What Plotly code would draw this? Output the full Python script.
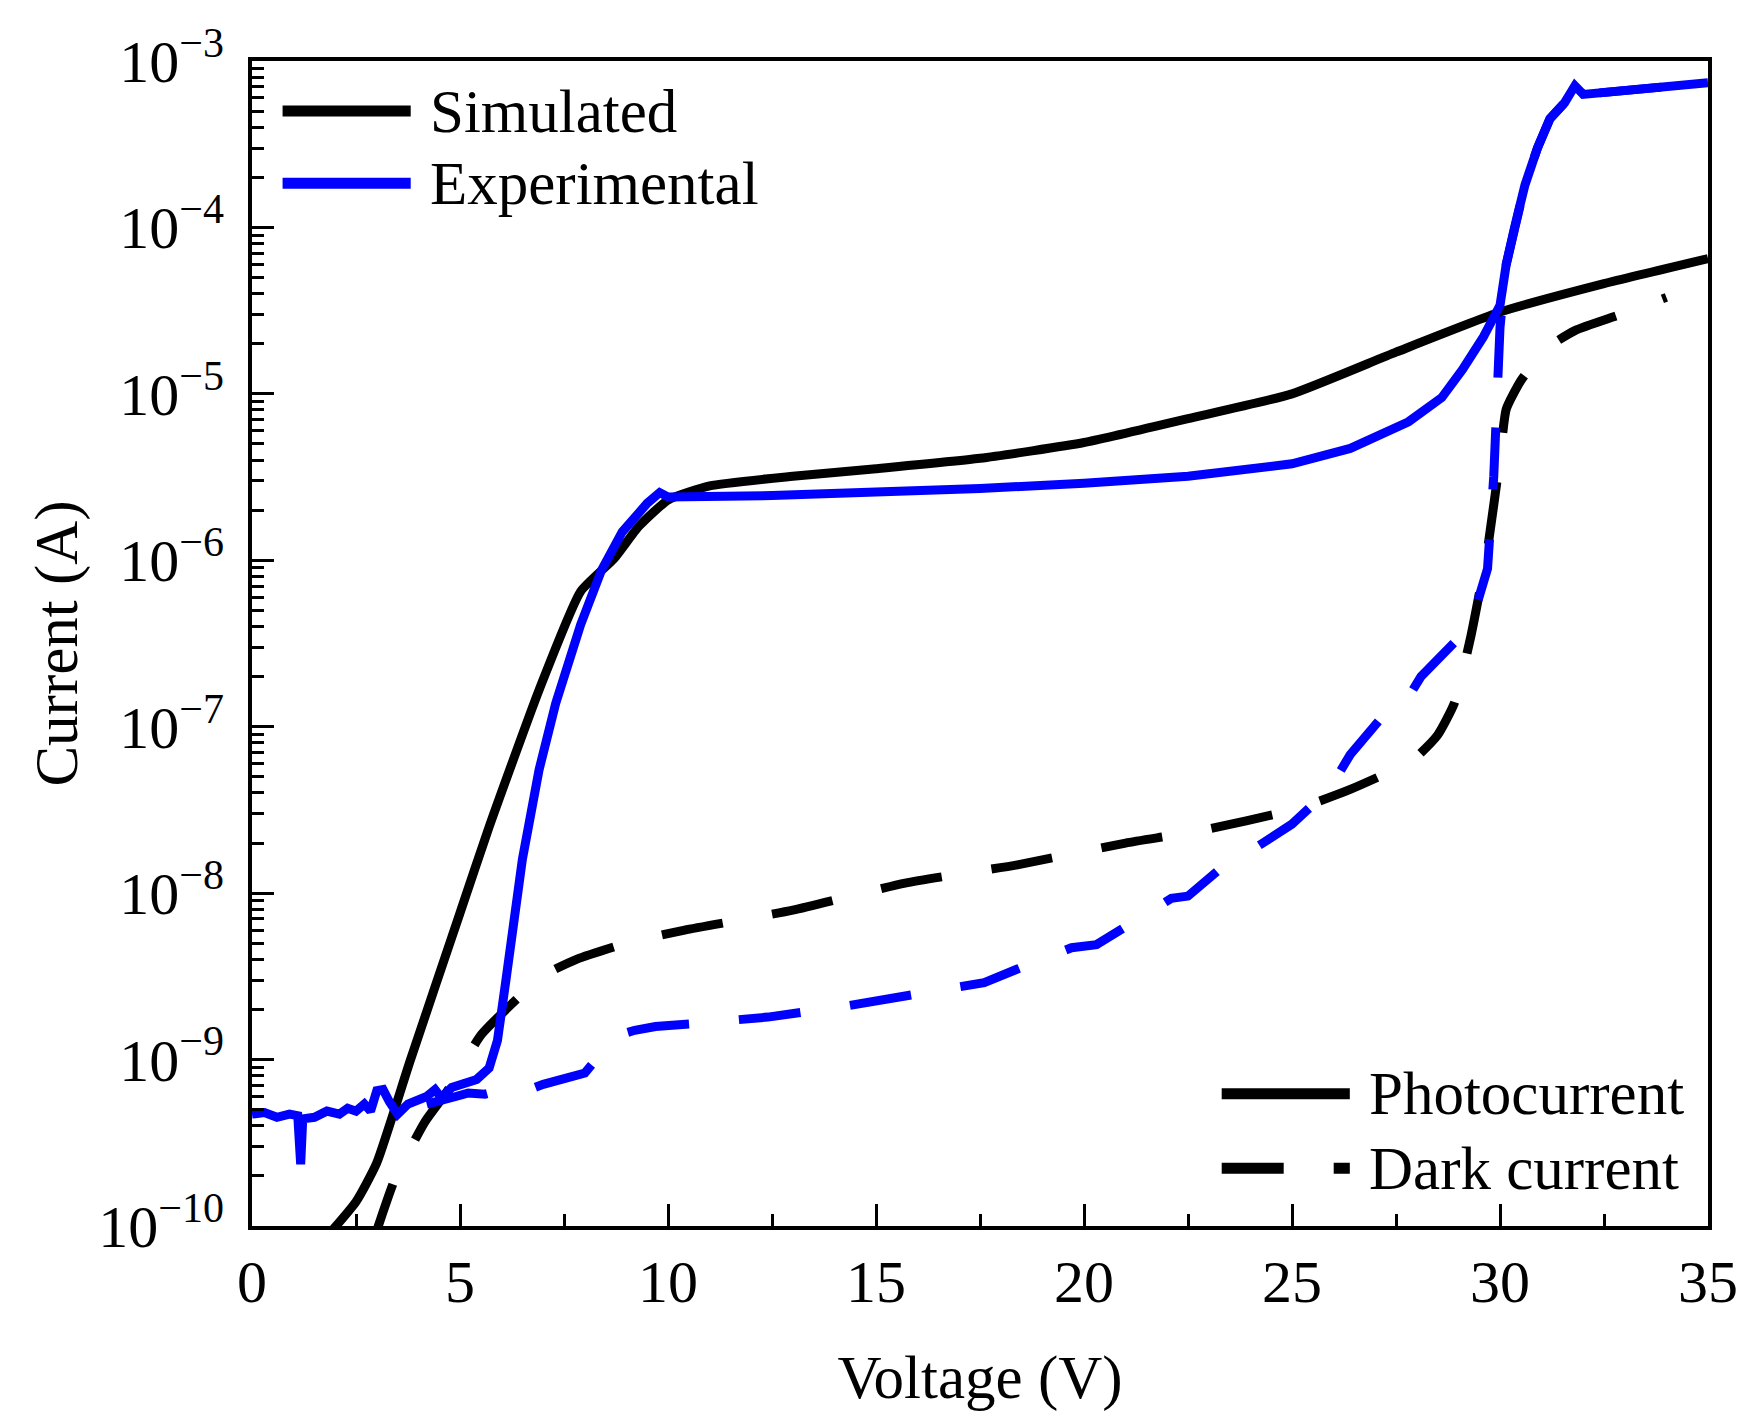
import plotly.graph_objects as go

# photocurrent, simulated (black solid)
sim_photo_v = [1.5, 2.5, 3.0, 3.8, 5.0, 5.7, 6.9, 7.9, 8.7, 9.3, 10.0, 11.0, 13.0, 15.0,
               17.5, 20.0, 22.5, 25.0, 27.5, 30.0, 32.5, 35.0]
sim_photo_i = [7.1e-11, 1.4e-10, 2.4e-10, 9.8e-10, 7.6e-9, 2.5e-8, 1.66e-7, 6.5e-7, 1.02e-6,
               1.6e-6, 2.3e-6, 2.8e-6, 3.2e-6, 3.55e-6, 4.1e-6, 5.1e-6, 7.1e-6, 1.0e-5,
               1.78e-5, 3.1e-5, 4.6e-5, 6.5e-5]

# photocurrent, experimental (blue solid)
exp_photo_v = [0.0, 0.3, 0.6, 0.9, 1.1, 1.17, 1.22, 1.5, 1.8, 2.1, 2.3, 2.5, 2.7, 2.85, 3.0,
               3.15, 3.3, 3.5, 3.75, 4.0, 4.2, 4.4, 4.55, 4.8, 5.1, 5.4, 5.7, 5.9, 6.1, 6.5,
               6.9, 7.3, 7.9, 8.4, 8.9, 9.5, 9.8, 10.0, 12.5, 15.0, 17.5, 20.0, 22.5, 25.0,
               26.4, 27.8, 28.6, 29.1, 29.6, 30.0, 30.15, 30.35, 30.6, 30.9, 31.2, 31.55,
               31.8, 32.0, 35.0]
exp_photo_i = [4.7e-10, 4.8e-10, 4.5e-10, 4.7e-10, 4.6e-10, 2.35e-10, 4.4e-10, 4.5e-10,
               4.9e-10, 4.7e-10, 5.1e-10, 4.9e-10, 5.4e-10, 4.9e-10, 6.5e-10, 6.6e-10,
               5.6e-10, 4.7e-10, 5.4e-10, 5.8e-10, 6.0e-10, 6.6e-10, 5.9e-10, 6.8e-10,
               7.1e-10, 7.6e-10, 8.9e-10, 1.3e-9, 2.95e-9, 1.6e-8, 5.5e-8, 1.38e-7, 4.1e-7,
               8.7e-7, 1.48e-6, 2.2e-6, 2.55e-6, 2.4e-6, 2.45e-6, 2.55e-6, 2.7e-6, 2.9e-6,
               3.2e-6, 3.8e-6, 4.7e-6, 6.8e-6, 9.5e-6, 1.4e-5, 2.2e-5, 3.4e-5, 6.0e-5,
               1.0e-4, 1.8e-4, 3.0e-4, 4.5e-4, 5.6e-4, 7.1e-4, 6.3e-4, 7.4e-4]

# dark current, simulated (black dashed)
sim_dark_v = [2.9, 3.43, 4.15, 4.7, 5.5, 6.4, 7.0, 7.8, 9.0, 10.4, 13.0, 15.7, 18.4, 21.0,
              22.7, 25.1, 26.4, 27.9, 28.5, 28.9, 29.3, 29.7, 30.0, 30.15, 30.5, 31.15,
              31.8, 32.9, 34.0]
sim_dark_i = [7.9e-11, 1.9e-10, 4.2e-10, 6.5e-10, 1.4e-9, 2.35e-9, 3.2e-9, 4.0e-9, 5.0e-9,
              6.0e-9, 7.9e-9, 1.15e-8, 1.48e-8, 2.0e-8, 2.35e-8, 3.2e-8, 4.2e-8, 6.3e-8,
              8.9e-8, 1.38e-7, 3.5e-7, 1.17e-6, 4.1e-6, 8.1e-6, 1.2e-5, 1.9e-5, 2.4e-5,
              3.0e-5, 3.8e-5]

# dark current, experimental (blue dashed)
exp_dark_v = [4.2, 4.5, 4.9, 5.2, 5.6, 6.2, 6.6, 7.0, 7.5, 8.0, 8.5, 8.8, 9.2, 9.7, 10.8,
              12.4, 14.3, 15.4, 17.0, 17.6, 18.4, 19.7, 20.3, 21.0, 22.1, 22.5, 23.2, 24.3,
              25.0, 25.9, 26.4, 27.2, 27.6, 28.1, 28.9, 29.4, 29.7, 29.85, 29.95, 30.0,
              30.15, 30.35, 30.6, 30.9, 31.2, 31.55, 31.8, 32.0, 35.0]
exp_dark_i = [5.4e-10, 5.6e-10, 6.0e-10, 6.3e-10, 6.2e-10, 6.8e-10, 6.5e-10, 7.1e-10,
              7.6e-10, 8.3e-10, 1.17e-9, 1.4e-9, 1.5e-9, 1.58e-9, 1.66e-9, 1.8e-9, 2.1e-9,
              2.35e-9, 2.8e-9, 2.9e-9, 3.5e-9, 4.7e-9, 4.9e-9, 6.3e-9, 9.3e-9, 9.6e-9,
              1.35e-8, 2.0e-8, 2.6e-8, 4.2e-8, 6.8e-8, 1.17e-7, 1.25e-7, 2.0e-7, 3.2e-7,
              5.0e-7, 8.9e-7, 3.2e-6, 1.0e-5, 2.5e-5, 6.0e-5, 1.0e-4, 1.8e-4, 3.0e-4,
              4.5e-4, 5.6e-4, 7.1e-4, 6.3e-4, 7.4e-4]

# y tick marks / labels (decades)
y_tickvals = [1e-10, 1e-9, 1e-8, 1e-7, 1e-6, 1e-5, 1e-4, 1e-3]
y_ticktext = ["10<sup>\u221210</sup>", "10<sup>\u22129</sup>", "10<sup>\u22128</sup>",
              "10<sup>\u22127</sup>", "10<sup>\u22126</sup>", "10<sup>\u22125</sup>",
              "10<sup>\u22124</sup>", "10<sup>\u22123</sup>"]

FONT = "Liberation Serif"
BLUE = "#0000FF"
DASH = "62px,50px"
LW = 9

fig = go.Figure()
fig.add_trace(go.Scatter(x=sim_dark_v, y=sim_dark_i, mode="lines",
                         line=dict(color="black", width=LW, dash=DASH, shape="spline",
                                   smoothing=0.5),
                         showlegend=False))
fig.add_trace(go.Scatter(x=exp_dark_v, y=exp_dark_i, mode="lines",
                         line=dict(color=BLUE, width=LW, dash=DASH), showlegend=False))
fig.add_trace(go.Scatter(x=sim_photo_v, y=sim_photo_i, mode="lines",
                         line=dict(color="black", width=LW, shape="spline", smoothing=0.5),
                         showlegend=False))
fig.add_trace(go.Scatter(x=exp_photo_v, y=exp_photo_i, mode="lines",
                         line=dict(color=BLUE, width=LW), showlegend=False))

# Origin-style legends: sample line + label, in paper coordinates
legend_items = [
    ("Simulated", "black", "solid", 0.021, 0.957),
    ("Experimental", BLUE, "solid", 0.021, 0.895),
    ("Photocurrent", "black", "solid", 0.666, 0.1136),
    ("Dark current", "black", DASH, 0.666, 0.0495),
]
for label, color, dash, x0, y0 in legend_items:
    fig.add_shape(type="line", xref="paper", yref="paper", x0=x0, x1=x0 + 0.088,
                  y0=y0, y1=y0, line=dict(color=color, width=11, dash=dash))
    fig.add_annotation(xref="paper", yref="paper", x=x0 + 0.1, y=y0, text=label,
                       showarrow=False, xanchor="left", yanchor="middle",
                       font=dict(family=FONT, size=61, color="black"))

axis_common = dict(
    showline=True, linecolor="black", linewidth=4, mirror=True,
    ticks="inside", ticklen=22, tickwidth=3, tickcolor="black",
    showgrid=False, zeroline=False,
    tickfont=dict(family=FONT, size=60, color="black"),
)

fig.update_xaxes(
    range=[0, 35], dtick=5, tick0=0,
    minor=dict(ticks="inside", ticklen=12, tickwidth=3, tickcolor="black", dtick=2.5),
    title=dict(text="Voltage (V)", font=dict(family=FONT, size=61, color="black"), standoff=42),
    **axis_common,
)
fig.update_yaxes(
    type="log", range=[-10, -3], tickvals=y_tickvals, ticktext=y_ticktext,
    ticklabelstandoff=12,
    minor=dict(ticks="inside", ticklen=12, tickwidth=3, tickcolor="black", dtick="D1"),
    title=dict(text="Current (A)", font=dict(family=FONT, size=61, color="black"), standoff=2),
    **axis_common,
)

fig.update_layout(
    width=1746, height=1422,
    margin=dict(l=244, r=46, t=47, b=204),
    plot_bgcolor="white", paper_bgcolor="white",
    font=dict(family=FONT, color="black"),
)

fig.write_html("out.html")
